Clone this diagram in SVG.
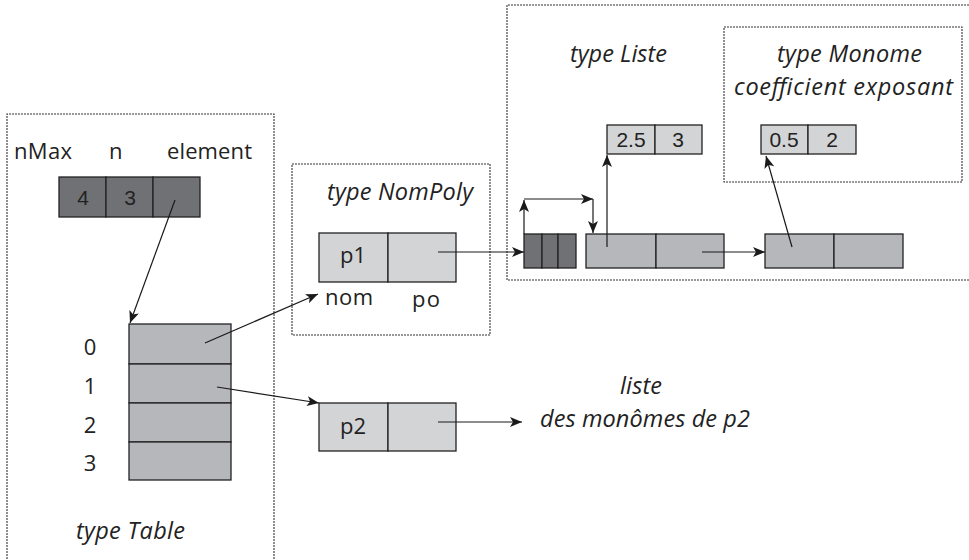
<svg xmlns="http://www.w3.org/2000/svg" width="969" height="560" viewBox="0 0 969 560">
<defs>
<marker id="ah" viewBox="0 0 12 10" refX="12" refY="5" markerWidth="13" markerHeight="10" markerUnits="userSpaceOnUse" orient="auto">
<path d="M0,0 L12,5 L0,10 L3,5 Z" fill="#1a1a1a"/>
</marker>
<style>
.frame{fill:none;stroke:#333;stroke-width:1.1;stroke-dasharray:2 1}
.dark{fill:#707174;stroke:#222;stroke-width:1.3}
.mid{fill:#b6b7ba;stroke:#222;stroke-width:1.3}
.light{fill:#d3d4d6;stroke:#222;stroke-width:1.3}
.t{font-family:"Open Sans","Noto Sans",sans-serif;font-size:22px;fill:#222}
.s{font-family:"Liberation Sans",Arial,sans-serif;font-size:21px;fill:#222}
.i{font-family:"Open Sans","Noto Sans",sans-serif;font-size:23.5px;font-style:italic;fill:#222}
.c{fill:none;stroke:#1a1a1a;stroke-width:1.2}
</style>
</defs>
<rect width="969" height="560" fill="#fff"/>

<g id="table-type">
<path class="frame" d="M7,562 L7,114 L274,114 L274,562"/>
<text class="t" x="14" y="159" textLength="58">nMax</text>
<text class="t" x="109" y="159">n</text>
<text class="t" x="167" y="159" textLength="85">element</text>
<rect class="dark" x="59" y="177" width="47" height="40"/>
<rect class="dark" x="106" y="177" width="47" height="40"/>
<rect class="dark" x="153" y="177" width="47" height="40"/>
<text class="s" x="83" y="205" text-anchor="middle">4</text>
<text class="s" x="130" y="205" text-anchor="middle">3</text>
<text class="t" x="90" y="355" text-anchor="middle">0</text>
<text class="t" x="90" y="394" text-anchor="middle">1</text>
<text class="t" x="90" y="433" text-anchor="middle">2</text>
<text class="t" x="90" y="471" text-anchor="middle">3</text>
<text class="i" x="76" y="539" textLength="109">type Table</text>
</g>

<g id="table">
<rect class="mid" x="129" y="324" width="102" height="40"/>
<rect class="mid" x="129" y="364" width="102" height="39"/>
<rect class="mid" x="129" y="403" width="102" height="39"/>
<rect class="mid" x="129" y="442" width="102" height="38"/>
</g>

<g id="nompoly-type">
<rect class="frame" x="292" y="164" width="198" height="171"/>
<text class="i" x="327" y="200" textLength="146">type NomPoly</text>
<rect class="light" x="319" y="233" width="69" height="49"/>
<rect class="light" x="388" y="233" width="68" height="49"/>
<text class="t" x="353" y="263" text-anchor="middle">p1</text>
<text class="t" x="325" y="305" textLength="48">nom</text>
<text class="t" x="412" y="307" textLength="28">po</text>
</g>

<g id="p2">
<rect class="light" x="319" y="403" width="69" height="48"/>
<rect class="light" x="388" y="403" width="68" height="48"/>
<text class="t" x="353" y="434" text-anchor="middle">p2</text>
</g>

<g id="liste-type">
<path class="frame" d="M972,5 L507,5 L507,280 L972,280"/>
<text class="i" x="570" y="62" textLength="97">type Liste</text>
<rect class="dark" x="524" y="234" width="18" height="34"/>
<rect class="dark" x="542" y="234" width="16" height="34"/>
<rect class="dark" x="558" y="234" width="18" height="34"/>
<rect class="mid" x="586" y="234" width="70" height="34"/>
<rect class="mid" x="656" y="234" width="68" height="34"/>
<rect class="mid" x="765" y="234" width="69" height="34"/>
<rect class="mid" x="834" y="234" width="69" height="34"/>
<rect class="light" x="607" y="125" width="48" height="29"/>
<rect class="light" x="655" y="125" width="47" height="29"/>
<text class="s" x="631" y="147" text-anchor="middle">2.5</text>
<text class="s" x="678" y="147" text-anchor="middle">3</text>
</g>

<g id="monome-type">
<rect class="frame" x="724" y="27" width="238" height="155"/>
<text class="i" x="777" y="62" textLength="145">type Monome</text>
<text class="i" x="734" y="95" textLength="219">coefficient exposant</text>
<rect class="light" x="761" y="125" width="47" height="29"/>
<rect class="light" x="808" y="125" width="48" height="29"/>
<text class="s" x="784" y="147" text-anchor="middle">0.5</text>
<text class="s" x="832" y="147" text-anchor="middle">2</text>
</g>

<g id="label-p2">
<text class="i" x="620" y="394" textLength="42">liste</text>
<text class="i" x="540" y="427" textLength="210">des monômes de p2</text>
</g>

<g id="connectors">
<line class="c" x1="175" y1="200" x2="130" y2="323" marker-end="url(#ah)"/>
<line class="c" x1="205" y1="343" x2="318" y2="294" marker-end="url(#ah)"/>
<line class="c" x1="217" y1="387" x2="319" y2="403" marker-end="url(#ah)"/>
<line class="c" x1="438" y1="252" x2="524" y2="252" marker-end="url(#ah)"/>
<line class="c" x1="438" y1="422" x2="522" y2="422" marker-end="url(#ah)"/>
<line class="c" x1="524" y1="234" x2="524" y2="200" marker-end="url(#ah)"/>
<line class="c" x1="524" y1="199" x2="593" y2="199" marker-end="url(#ah)"/>
<line class="c" x1="593" y1="199" x2="593" y2="233" marker-end="url(#ah)"/>
<line class="c" x1="607" y1="247" x2="607" y2="155" marker-end="url(#ah)"/>
<line class="c" x1="702" y1="252" x2="765" y2="252" marker-end="url(#ah)"/>
<line class="c" x1="792" y1="247" x2="766" y2="156" marker-end="url(#ah)"/>
</g>
</svg>
